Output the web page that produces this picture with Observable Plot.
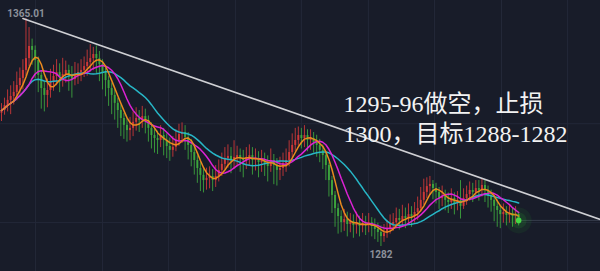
<!DOCTYPE html>
<html><head><meta charset="utf-8">
<script src="https://cdn.jsdelivr.net/npm/d3@7"></script>
<script src="https://cdn.jsdelivr.net/npm/@observablehq/plot@0.6"></script>
<style>html,body{margin:0;padding:0;background:#181c29;overflow:hidden}</style>
</head><body><div id="chart"></div>
<script>
// Close prices, one per candle (open = previous close)
const closes = [1331.5,1333.3,1335.2,1336.6,1338.1,1340.6,1343.2,1346.1,1350.4,1354.8,
 1353.4,1349.7,1344.3,1339.5,1337.0,1338.8,1341.7,1343.9,1345.3,1343.5,
 1344.6,1346.1,1344.3,1342.8,1344.6,1345.3,1346.1,1347.5,1349.0,1350.4,
 1351.9,1350.4,1348.2,1345.3,1342.4,1339.5,1337.0,1334.1,1331.5,1328.6,
 1326.1,1324.2,1325.0,1327.2,1328.6,1327.9,1329.3,1327.9,1325.0,1322.4,
 1321.3,1320.6,1322.4,1320.6,1318.4,1317.0,1318.1,1320.6,1322.8,1323.5,
 1321.7,1318.8,1316.2,1313.3,1310.4,1307.9,1306.0,1306.8,1307.5,1306.0,
 1307.5,1309.7,1311.9,1314.0,1314.8,1313.3,1314.4,1315.1,1314.0,1313.3,
 1314.4,1315.1,1313.3,1314.0,1312.6,1313.3,1312.2,1311.1,1313.3,1311.5,
 1309.7,1310.4,1312.2,1313.3,1316.2,1318.8,1320.6,1322.4,1321.3,1322.4,
 1320.6,1321.3,1319.9,1318.8,1317.0,1315.1,1311.5,1306.0,1300.6,1295.8,
 1292.9,1290.7,1291.8,1290.0,1291.1,1289.6,1290.7,1289.3,1290.4,1289.6,
 1290.7,1289.3,1288.2,1287.1,1285.6,1286.7,1288.6,1290.0,1290.7,1292.2,
 1291.5,1292.9,1292.2,1293.6,1292.9,1294.4,1295.8,1298.8,1301.7,1303.8,
 1304.6,1303.1,1301.7,1299.5,1300.2,1298.8,1298.0,1299.5,1297.7,1298.8,
 1296.6,1299.5,1300.9,1302.4,1301.7,1303.1,1302.4,1304.2,1302.4,1300.2,
 1298.8,1296.6,1295.1,1293.6,1294.4,1293.3,1294.0,1292.9,1293.6,1291.5];
const highs = [1334.0,1336.0,1339.0,1340.5,1342.0,1345.5,1347.0,1350.0,1365.01,1361.7,
 1357.5,1355.0,1351.0,1346.0,1342.0,1343.0,1346.5,1348.0,1350.0,1348.5,
 1350.5,1349.5,1348.0,1347.5,1349.0,1348.5,1350.0,1351.0,1353.5,1355.5,
 1354.5,1355.0,1353.0,1350.0,1347.0,1344.0,1341.5,1339.0,1336.0,1333.5,
 1330.5,1328.5,1329.0,1331.0,1332.5,1331.5,1333.0,1332.0,1329.5,1327.0,
 1325.5,1324.0,1326.0,1325.0,1323.0,1321.5,1322.0,1324.5,1326.5,1327.0,
 1326.0,1323.5,1321.0,1318.5,1315.0,1312.5,1310.0,1310.5,1311.0,1310.0,
 1311.5,1313.5,1316.0,1318.0,1319.0,1318.0,1320.5,1318.5,1317.5,1317.0,
 1318.0,1319.0,1318.0,1317.5,1316.5,1317.0,1316.0,1315.0,1317.5,1315.5,
 1314.0,1314.5,1316.0,1317.5,1320.5,1323.0,1325.0,1325.5,1325.0,1326.0,
 1324.5,1324.5,1323.5,1322.5,1321.0,1319.0,1316.5,1312.5,1307.5,1302.0,
 1297.5,1295.0,1295.5,1294.5,1294.0,1293.5,1294.5,1293.0,1294.0,1293.0,
 1294.0,1292.5,1292.0,1290.5,1289.5,1290.0,1291.5,1293.5,1294.0,1296.0,
 1295.5,1297.0,1296.0,1297.5,1296.5,1298.0,1300.0,1303.5,1306.5,1307.0,
 1307.5,1306.0,1305.0,1303.5,1304.0,1302.5,1301.5,1303.0,1301.5,1302.0,
 1306.0,1303.0,1304.0,1305.5,1305.0,1306.0,1306.0,1306.5,1306.0,1304.0,
 1302.5,1300.5,1299.0,1297.0,1297.5,1296.5,1297.0,1296.0,1296.5,1294.5];
const lows = [1327.5,1329.8,1331.0,1330.0,1333.5,1335.0,1337.5,1339.0,1344.0,1347.5,
 1348.0,1343.0,1338.0,1332.0,1331.0,1332.5,1336.0,1338.5,1340.5,1338.0,
 1340.0,1341.5,1338.5,1336.0,1340.5,1341.0,1342.0,1343.5,1344.0,1345.5,
 1346.0,1345.0,1342.0,1339.0,1336.5,1333.0,1330.0,1328.0,1325.0,1322.0,
 1321.0,1320.0,1320.5,1322.0,1324.0,1323.5,1325.0,1323.0,1320.0,1317.5,
 1316.0,1315.5,1318.0,1315.0,1314.0,1313.0,1314.5,1316.5,1318.5,1319.5,
 1317.0,1313.5,1311.0,1308.0,1305.0,1302.0,1301.5,1302.5,1303.0,1302.0,
 1303.5,1305.5,1307.5,1310.0,1310.5,1308.5,1310.0,1311.0,1309.0,1307.0,
 1310.0,1311.5,1308.0,1309.5,1307.0,1309.0,1307.5,1305.5,1309.0,1304.5,
 1304.0,1306.0,1307.5,1309.0,1311.0,1314.0,1316.5,1318.5,1317.5,1318.0,
 1316.5,1317.0,1316.0,1314.5,1312.5,1310.0,1306.0,1300.0,1294.0,1289.0,
 1286.5,1287.0,1287.5,1285.5,1287.0,1285.0,1286.5,1285.5,1287.0,1286.0,
 1287.0,1285.5,1284.5,1283.5,1282.0,1283.5,1285.0,1286.5,1287.5,1288.5,
 1288.0,1289.0,1288.5,1290.0,1289.0,1290.5,1291.5,1294.5,1297.0,1299.5,
 1300.5,1299.0,1297.5,1295.5,1296.5,1295.0,1294.0,1295.5,1293.5,1295.0,
 1292.0,1295.5,1297.0,1298.5,1298.0,1299.5,1298.5,1300.0,1298.0,1296.0,
 1294.5,1291.0,1289.0,1288.5,1290.5,1289.5,1290.5,1289.0,1290.0,1289.5];
const firstOpen = 1330.5;

// Labels and annotation
const highLabel = "1365.01";
const lowLabel = "1282";
const note = "1295-96做空，止损\n1300，目标1288-1282";

// Trend line (candle index, price)
const trendX = [7, 195.75];
const trendY = [1365.01, 1291.8];

// Grid (candle index / price)
const gridX = [11.1, 33.0, 54.6, 76.5, 98.0, 119.9, 141.5, 163.4, 185.0];
const gridY = [1326.7, 1290.7];

// Moving averages
const maPeriods = [20, 10, 5];
const maColors = ["#27b6c6", "#dc22d4", "#ea8a1e"];

const red = "#d63a3a", green = "#3eaa3e";

const candles = closes.map((c, i) => {
  const open = i ? closes[i - 1] : firstOpen;
  return {i, open, close: c,
    high: Math.max(highs[i], open, c), low: Math.min(lows[i], open, c)};
});
const last = candles[candles.length - 1];
const hiC = candles.reduce((a, b) => b.high > a.high ? b : a);
const loC = candles.reduce((a, b) => b.low < a.low ? b : a);
const trend = trendX.map((x, j) => ({x, y: trendY[j]}));
const col = d => d.close >= d.open ? red : green;

const chart = Plot.plot({
  width: 600, height: 271, margin: 0,
  style: {background: "#181c29", overflow: "visible"},
  x: {domain: [-0.327, 195.75], axis: null},
  y: {domain: [1272.9, 1371.55], axis: null},
  marks: [
    Plot.ruleX(gridX, {stroke: "#232838", strokeWidth: 1}),
    Plot.ruleY(gridY, {stroke: "#232838", strokeWidth: 1}),
    Plot.ruleY([last], {y: "close", x1: "i", x2: () => 195.75, stroke: "#363c4c", strokeWidth: 1}),
    Plot.ruleX(candles, {x: "i", y1: "low", y2: "high", stroke: col, strokeWidth: 1, strokeOpacity: 0.85}),
    Plot.ruleX(candles, {x: "i", y1: "open", y2: "close", stroke: col, strokeWidth: 2, strokeOpacity: 0.9}),
    ...maPeriods.map((k, j) => Plot.lineY(candles, Plot.windowY({k, anchor: "end"},
      {x: "i", y: "close", stroke: maColors[j], strokeWidth: 1.5}))),
    Plot.line(trend, {x: "x", y: "y", stroke: "#cfd0d4", strokeWidth: 1.6}),
    Plot.dot([last], {x: "i", y: "close", r: 13, fill: "#2fd02f", fillOpacity: 0.07}),
    Plot.dot([last], {x: "i", y: "close", r: 8, fill: "#2fd02f", fillOpacity: 0.12}),
    Plot.dot([last], {x: "i", y: "close", r: 2.8, fill: "#45d845"}),
    Plot.text([hiC], {x: "i", y: "high", text: () => highLabel, dy: -4.5, lineAnchor: "middle",
      fill: "#8c909a", fontSize: 10, fontFamily: "Roboto, sans-serif", fontWeight: "bold"}),
    Plot.text([loC], {x: "i", y: "low", text: () => lowLabel, dy: 8, lineAnchor: "middle",
      fill: "#8c909a", fontSize: 10, fontFamily: "Roboto, sans-serif", fontWeight: "bold"}),
    Plot.text([note], {frameAnchor: "top-left", text: d => d, dx: 343, dy: 90,
      textAnchor: "start", lineAnchor: "top", lineHeight: 1.25, fill: "#f2f2f2",
      fontSize: 24, fontFamily: "'Liberation Serif', 'Noto Sans CJK SC', serif"})
  ]
});
document.getElementById("chart").append(chart);
</script>
</body></html>
